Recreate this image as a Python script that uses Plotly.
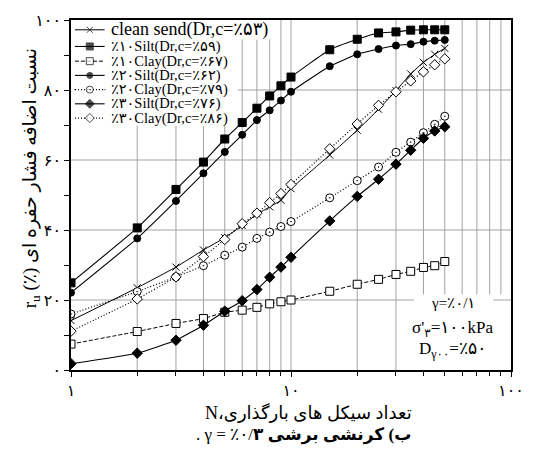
import math
import plotly.graph_objects as go

# ---- data: excess pore pressure ratio r_u (%) versus number of loading cycles N ----
cycles = [1, 2, 3, 4, 5, 6, 7, 8, 9, 10, 15, 20, 25, 30, 35, 40, 45, 50]

clean_sand = [14.1, 23.5, 29.4, 34.3, 37.8, 41.3, 44.5, 46.6, 48.5, 51.8, 61.4, 68.5, 74.5, 79.8, 84.6, 87.9, 90.2, 91.9]
silt_10 = [24.9, 40.6, 51.6, 59.4, 66.0, 70.7, 74.8, 78.3, 81.2, 83.7, 91.5, 94.5, 96.3, 96.6, 97.1, 97.2, 97.2, 97.2]
clay_10 = [7.4, 11.0, 13.3, 14.7, 16.5, 17.1, 17.9, 18.9, 19.5, 20.0, 22.5, 24.5, 25.9, 27.3, 28.2, 29.3, 29.8, 31.0]
silt_20 = [22.1, 37.6, 48.3, 56.2, 62.3, 67.2, 71.4, 74.2, 77.0, 79.5, 86.8, 90.2, 91.7, 92.7, 93.1, 93.8, 94.1, 94.3]
clay_20 = [16.0, 22.4, 26.6, 29.8, 32.8, 35.1, 37.6, 39.4, 41.0, 42.4, 49.2, 54.1, 58.0, 62.2, 65.1, 67.8, 70.2, 72.5]
silt_30 = [1.8, 4.8, 8.5, 12.8, 16.8, 19.8, 23.0, 26.5, 29.4, 32.2, 42.6, 49.6, 54.5, 58.8, 62.8, 66.2, 68.3, 69.5]
clay_30 = [11.1, 20.3, 26.6, 32.4, 37.3, 41.8, 44.8, 47.8, 50.4, 53.0, 63.2, 70.3, 75.6, 79.5, 82.6, 85.2, 87.2, 88.9]

series_names = [
    "clean send(Dr,c=٪۵۳)",
    "٪۱۰Silt(Dr,c=٪۵۹)",
    "٪۱۰Clay(Dr,c=٪۶۷)",
    "٪۲۰Silt(Dr,c=٪۶۲)",
    "٪۲۰Clay(Dr,c=٪۷۹)",
    "٪۳۰Silt(Dr,c=٪۷۶)",
    "٪۳۰Clay(Dr,c=٪۸۶)",
]
series_values = [clean_sand, silt_10, clay_10, silt_20, clay_20, silt_30, clay_30]

x_tick_vals = [1, 10, 100]
x_tick_text = ["۱", "۱۰", "۱۰۰"]
x_grid_vals = [2, 3, 4, 5, 6, 7, 8, 9, 10, 20, 30, 40, 50, 60, 70, 80, 90]
x_minor_vals = [2, 3, 4, 5, 6, 7, 8, 9, 20, 30, 40, 50, 60, 70, 80, 90]
y_tick_vals = [0, 20, 40, 60, 80, 100]
y_tick_text = ["۰", "۲۰", "۴۰", "۶۰", "۸۰", "۱۰۰"]
y_grid_vals = [20, 40, 60, 80]
y_minor_vals = [10, 30, 50, 70, 90]

# ---- styling ----
SERIF = "Liberation Serif, Times New Roman, DejaVu Sans, serif"
INK = "black"
GRID = "#a3a3a3"
W, H = 536, 468
L, R, T, B = 71, 20, 13, 98          # plot area margins (px)
X0, X1, Y0, Y1 = L, W - R, T, H - B  # plot area corners (px)
LRM, LRE, PDF = "\u200e", "\u202a", "\u202c"

# axis title and caption, pieces listed in on-screen order (left to right)
x_title_words = ["N،" + LRM + "بارگذاری", "های", "سیکل", "تعداد"]
caption_words = [".", "γ", "=", "٪۰/<b>۳</b>", "<b>برشی</b>", "<b>کرنشی</b>", "<b>(ب</b>"]

styles = [
    dict(symbol="x-thin", size=7, fill=INK, dash="solid", lw=1.0),
    dict(symbol="square", size=8, fill=INK, dash="solid", lw=1.1),
    dict(symbol="square", size=8, fill="white", dash="4px,2px", lw=1.0),
    dict(symbol="circle", size=7, fill=INK, dash="solid", lw=1.1),
    dict(symbol="circle-dot", size=8, fill="white", dash="1px,2px", lw=1.2),
    dict(symbol="diamond", size=8, fill=INK, dash="solid", lw=1.1),
    dict(symbol="diamond", size=8, fill="white", dash="1px,2px", lw=1.2),
]


def px_x(px):
    return (px - X0) / (X1 - X0)


def px_y(py):
    return (Y1 - py) / (Y1 - Y0)


def ltr_words(words):
    # left-to-right embedding, pieces kept in the listed order
    return LRM + LRE + (LRM + " " + LRM).join(words) + PDF + LRM


fig = go.Figure()

# ---- grid, drawn as segments so the key and condition box stay clear ----
def x_frac(v):
    return math.log10(v) / 2.0


for v in x_grid_vals:
    gx = X0 + x_frac(v) * (X1 - X0)
    top, bottom = 1.0, 0.0
    if gx < 240:
        top = px_y(121)
    elif gx < 279:
        top = px_y(33)
    if 414 < gx < 512:
        bottom = px_y(293)
    fig.add_shape(type="line", xref="x domain", yref="y domain", x0=x_frac(v), x1=x_frac(v),
                  y0=bottom, y1=top, line=dict(color=GRID, width=1), layer="below")
for v in y_grid_vals:
    fy = v / 100.0
    if v == 80:
        spans = [(px_x(240), 1.0)]
    elif v == 20:
        spans = [(0.0, px_x(418)), (px_x(498), 1.0)]
    else:
        spans = [(0.0, 1.0)]
    for a, b in spans:
        fig.add_shape(type="line", xref="x domain", yref="y domain", x0=a, x1=b,
                      y0=fy, y1=fy, line=dict(color=GRID, width=1), layer="below")

for name, vals, st in zip(series_names, series_values, styles):
    fig.add_trace(go.Scatter(
        x=cycles, y=vals, name=name, mode="lines+markers",
        line=dict(color=INK, width=st["lw"], dash=st["dash"], shape="spline", smoothing=0.4),
        marker=dict(symbol=st["symbol"], size=st["size"], color=st["fill"],
                    line=dict(color=INK, width=1)),
        showlegend=False,
    ))

# ---- key drawn on a pixel-scaled overlay axis ----
key_rows = [23, 40, 55, 69.5, 84, 98.5, 113]
key_font = [18, 14.5, 14.5, 14.5, 14.5, 14.5, 14.5]
for name, st, row, fs in zip(series_names, styles, key_rows, key_font):
    fig.add_trace(go.Scatter(
        x=[75, 90, 105], y=[row, row, row], xaxis="x2", yaxis="y2", mode="lines+markers",
        line=dict(color=INK, width=st["lw"], dash=st["dash"]),
        marker=dict(symbol=st["symbol"], size=[0, st["size"] - 1, 0], color=st["fill"],
                    line=dict(color=INK, width=1)),
        showlegend=False, hoverinfo="skip",
    ))
    fig.add_annotation(x=109, y=row, xref="x2", yref="y2", text=name, showarrow=False,
                       xanchor="left", yanchor="middle", font=dict(family=SERIF, size=fs, color=INK))

# test conditions
cond_lines = [
    ("γ=٪۰/۱", 302, 15),
    ("σ'<sub>۳</sub>=۱۰۰kPa", 328, 17),
    ("D<sub>γ۰۰</sub>=٪۵۰", 350, 17),
]
for txt, py, fs in cond_lines:
    fig.add_annotation(x=457, y=py, xref="x2", yref="y2", text=txt, showarrow=False,
                       xanchor="center", yanchor="middle", font=dict(family=SERIF, size=fs, color=INK))

# x-axis title and caption
fig.add_annotation(x=px_x(311), y=px_y(413), xref="paper", yref="paper", text=ltr_words(x_title_words),
                   showarrow=False, xanchor="center", yanchor="middle",
                   font=dict(family=SERIF, size=18, color=INK))
fig.add_annotation(x=px_x(306), y=px_y(436), xref="paper", yref="paper", text=ltr_words(caption_words),
                   showarrow=False, xanchor="center", yanchor="middle",
                   font=dict(family=SERIF, size=17, color=INK))

y_title = "r<sub>u</sub> (٪) نسبت اضافه فشار حفره ای"
fig.add_annotation(x=px_x(30), y=px_y(174), xref="paper", yref="paper", text=y_title, showarrow=False,
                   textangle=-90, xanchor="center", yanchor="middle", font=dict(family=SERIF, size=19, color=INK))

axis_common = dict(showline=True, linecolor=INK, linewidth=1.5, mirror=True, ticks="outside",
                   ticklen=5, tickcolor=INK, showgrid=False, zeroline=False,
                   tickfont=dict(family=SERIF, size=16, color=INK))

fig.update_layout(
    width=W, height=H,
    margin=dict(l=L, r=R, t=T, b=B),
    paper_bgcolor="white", plot_bgcolor="white",
    showlegend=False,
    xaxis=dict(type="log", range=[0, 2], tickvals=x_tick_vals, ticktext=x_tick_text,
               minor=dict(tickvals=x_minor_vals, ticks="outside", ticklen=4, tickcolor=INK, showgrid=False),
               **axis_common),
    yaxis=dict(range=[0, 100], tickvals=y_tick_vals, ticktext=y_tick_text,
               minor=dict(tickvals=y_minor_vals, ticks="outside", ticklen=5, tickcolor=INK, showgrid=False),
               **axis_common),
    xaxis2=dict(overlaying="x", range=[X0, X1], visible=False, anchor="y2"),
    yaxis2=dict(overlaying="y", range=[Y1, Y0], visible=False, anchor="x2"),
)

fig.write_html("out.html")
